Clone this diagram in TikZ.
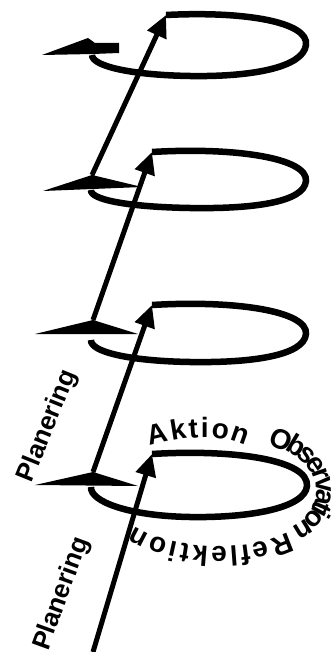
\documentclass[tikz,border=0pt]{standalone}
\usepackage{fontspec}
\setmainfont{Liberation Sans}
\newfontfamily\heavyfont{Liberation Sans Bold}
\usetikzlibrary{arrows.meta,decorations.text}

\newcommand\planfont{\heavyfont\fontsize{26}{30}\selectfont}
\newcommand\arcfont{\heavyfont\fontsize{28}{32}\selectfont}

\begin{document}
\begin{tikzpicture}[x=1pt, y=-1pt, every node/.style={font=\planfont},
  >={Triangle[length=22pt, width=20pt]},
  cycleline/.style={line width=6.5pt},
  riseline/.style={->, line width=5pt},
  arcword/.style={decorate, decoration={text along path, text align=fit to path, text={|\arcfont|#1}}}]
  \useasboundingbox (0,0) rectangle (334,652);
  % starts of the cycles and corners of the turn-back arrows
  \coordinate (s1) at (166,15);
  \coordinate (s2) at (152,152);
  \coordinate (s3) at (152,305);
  \coordinate (s4) at (152,454);
  \coordinate (a1) at (88,38);
  \coordinate (a2) at (92,175);
  \coordinate (a3) at (93,320);
  \coordinate (a4) at (93,472);
  \coordinate (start) at (93,652);

  % the four cycles
  \draw[cycleline] (s1) .. controls (245,11) and (309,22) .. (306,45) .. controls (303,68) and (250,77) .. (190,76) .. controls (130,75) and (92,66) .. (92,55);
  \draw[cycleline] (s2) .. controls (235,147) and (308,158) .. (306,181) .. controls (304,203) and (250,209) .. (190,208) .. controls (130,207) and (90,200) .. (91,190);
  \draw[cycleline] (s3) .. controls (235,300) and (308,311) .. (306,334) .. controls (304,356) and (250,363) .. (190,362) .. controls (130,361) and (90,352) .. (91,340);
  \draw[cycleline] (s4) .. controls (235,449) and (309,460) .. (307,486) .. controls (305,508) and (250,518) .. (190,517) .. controls (130,516) and (90,502) .. (91,487);
  \fill (42,55) -- (a1) -- (95,43) -- (119,43) -- (119,53) -- (93,54) -- cycle;
  \fill (43,191) -- (a2) -- (142,187) -- cycle;
  \fill (35,334) -- (a3) -- (138,334) -- cycle;
  \fill (35,485) -- (a4) -- (138,486) -- cycle;

  % steps up to the next cycle
  \draw[riseline] (start) -- (s4);
  \draw[riseline] (a4) -- (s3);
  \draw[riseline] (a3) -- (s2);
  \draw[riseline] (a2) -- (s1);

  \node[rotate=70] (plan1) at (62,594) {Planering};
  \node[rotate=68] (plan2) at (48,426) {Planering};

  % words round the first cycle
  \path[arcword=Aktion] (150,446) .. controls (185,437) and (215,432) .. (246,446);
  \path[decorate, decoration={text along path, text={|\arcfont\kern-4.5pt|Observation}}] (272,446) .. controls (300,455) and (316,470) .. (316,490) .. controls (316,505) and (310,515) .. (298,524) -- (280,535);
  \path[arcword=Reflektion] (288,532) .. controls (250,552) and (175,552) .. (135,526);
\end{tikzpicture}
\end{document}
